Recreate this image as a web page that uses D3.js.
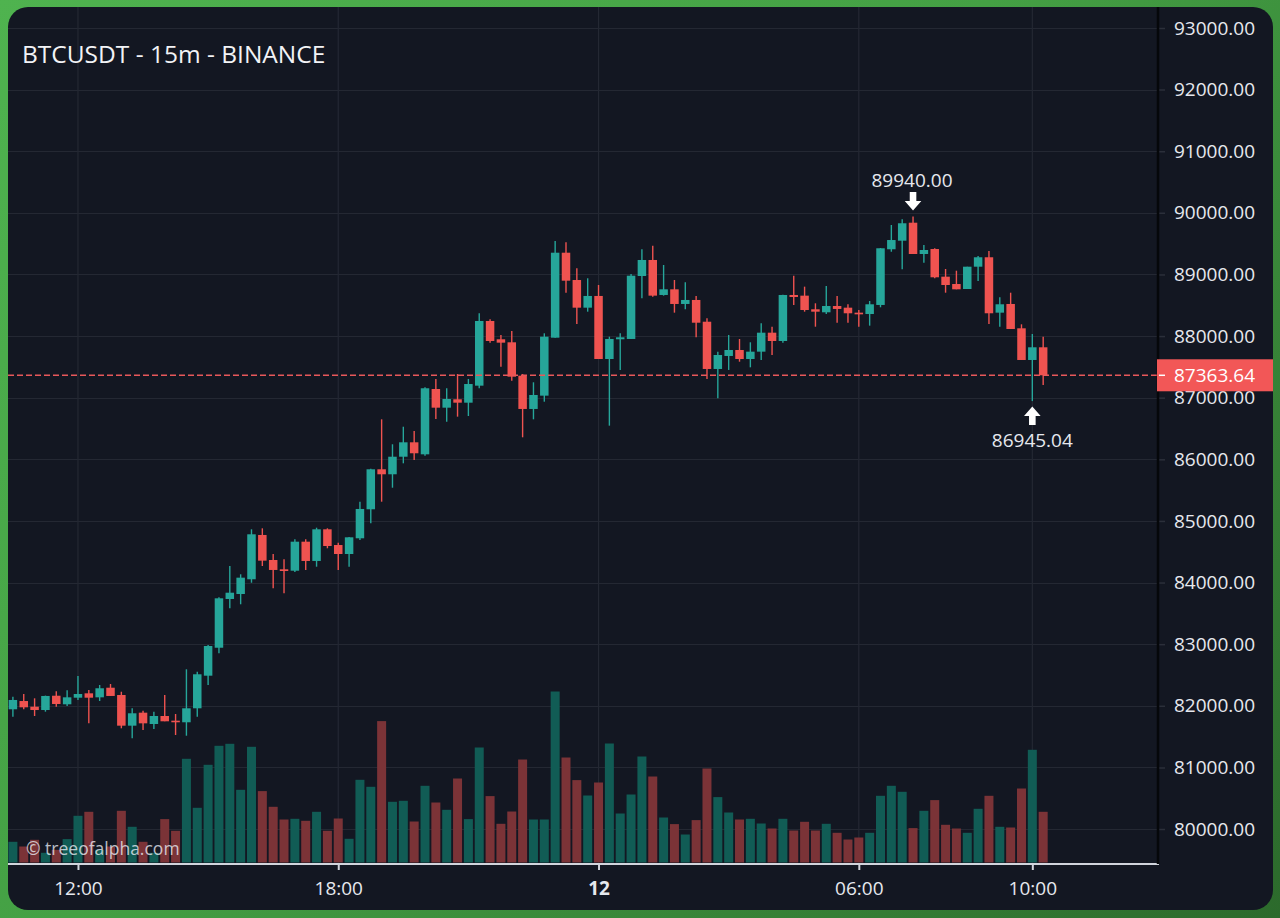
<!DOCTYPE html>
<html><head><meta charset="utf-8">
<script src="https://cdn.jsdelivr.net/npm/d3@7"></script>
<style>
html,body{margin:0;padding:0;width:1280px;height:918px;overflow:hidden;
background:linear-gradient(135deg,#4fb34f 0%,#44a044 45%,#2c6a2c 100%);}
svg{display:block}
</style></head><body>
<svg id="chart" width="1280" height="918"></svg>
<script>
const title = "BTCUSDT - 15m - BINANCE";
const watermark = "© treeofalpha.com";

// 15-minute candles, 11 Nov 10:30 -> 12 Nov 10:15
const startTime = new Date(2024, 10, 11, 10, 30);
const endTime = new Date(2024, 10, 12, 10, 30);

const open = [81943,82077,81985,81931,82163,82024,82131,82202,82137,82293,
82175,81677,81888,81704,81834,81758,81732,81959,82488,82942,
83733,83814,84053,84772,84366,84215,84192,84663,84350,84864,
84609,84463,84718,85189,85838,85757,86042,86276,86081,87141,
86838,86974,86919,87195,88245,87948,87899,87357,86817,87033,
87974,89353,88910,88461,88651,87628,87948,87953,88975,89235,
88667,88759,88521,88586,88233,87466,87677,87774,87628,87747,
88055,87920,88667,88656,88435,88386,88488,88461,88380,88358,
88505,89409,89548,89840,89332,89413,88964,88845,88764,89126,
89279,88380,88521,88126,87612,87818];

const high = [82147,82191,82121,82165,82235,82251,82483,82256,82337,82353,
82228,81959,81920,81904,82175,81866,82592,82553,82986,83760,
84268,84134,84864,84880,84463,84377,84702,84702,84890,84880,
84647,84740,85312,85845,86649,86244,86529,86460,87169,87304,
87153,87385,87304,88370,88272,88018,88083,87385,87250,88045,
89543,89522,89100,88938,88829,87990,88045,89008,89409,89467,
89154,88910,88873,88651,88289,87747,88018,87953,87899,88208,
88152,88670,88980,88802,88532,88813,88651,88516,88423,88569,
89430,89803,89895,89940,89478,89425,89089,89061,89126,89300,
89381,88629,88704,88191,88034,87990];

const low = [81823,81943,81834,81904,81985,81996,82094,81715,82077,82159,
81634,81472,81607,81623,81748,81526,81514,81823,82337,82852,
83582,83647,83997,84268,83907,83825,84171,84204,84257,84556,
84204,84257,84690,84962,85312,85539,85935,85989,86059,86654,
86610,86692,86703,87153,87893,87503,87276,86357,86649,86935,
87974,88704,88196,88396,87628,86546,87450,87953,88613,88639,
88656,88380,88435,87980,87304,86990,87450,87584,87493,87612,
87693,87893,88505,88396,88152,88358,88217,88217,88152,88169,
88467,89370,89084,89332,89191,88938,88704,88759,88764,88894,
88196,88152,88115,87612,86945.04,87206];

const close = [82094,81975,81931,82159,82029,82137,82191,82131,82284,82159,
81677,81878,81715,81834,81748,81732,81959,82511,82970,83744,
83835,84079,84783,84355,84204,84187,84663,84350,84864,84593,
84463,84734,85194,85838,85757,86042,86276,86098,87153,86838,
86979,86919,87222,88245,87920,87893,87341,86817,87044,87990,
89353,88899,88461,88651,87628,87953,87980,88980,89235,88656,
88759,88521,88586,88217,87466,87693,87774,87628,87747,88055,
87920,88667,88634,88423,88396,88488,88440,88370,88353,88516,
89425,89559,89831,89332,89397,88954,88829,88759,89126,89279,
88370,88516,88115,87612,87818,87363.64];

const volume = [207,160,227,97,127,234,467,507,127,160,
517,357,207,97,434,317,1037,547,977,1167,
1187,727,1157,714,557,430,437,417,507,317,
440,237,827,757,1414,607,617,410,767,600,
527,840,434,1150,664,387,510,1030,430,430,
1710,1050,824,670,800,1190,490,680,1060,860,
450,384,280,424,940,654,500,430,437,390,
340,437,320,407,320,387,297,230,250,297,
667,767,707,344,517,624,377,340,297,537,
667,357,350,740,1127,507];

const priceTicks = [80000,81000,82000,83000,84000,85000,86000,87000,88000,89000,90000,91000,92000,93000];
const timeTicks = [new Date(2024,10,11,12,0), new Date(2024,10,11,18,0), new Date(2024,10,12,0,0), new Date(2024,10,12,6,0), new Date(2024,10,12,10,0)];
const timeLabels = ["12:00","18:00","12","06:00","10:00"];
const timeBold = [false,false,true,false,false];

const highMark = {index: 83, value: 89940.00};
const lowMark = {index: 94, value: 86945.04};

// ---------- layout ----------
const W = 1280, H = 918;
const panel = {x: 8, y: 7, w: 1265, h: 903, r: 20};
const plotL = 8, plotR = 1158, axisY = 864;
const COLORS = {
  bg: "#131722", grid: "#242833", up: "#26a69a", down: "#ef5350",
  volUp: "#115c55", volDown: "#7b3337", text: "#e6e8ee"
};
const FONT = "'Open Sans', 'Noto Sans', sans-serif";

const times = d3.timeMinute.every(15).range(startTime, endTime);
const candles = times.map((t, i) => ({t, o: open[i], h: high[i], l: low[i], c: close[i], v: volume[i]}));

const x = d3.scaleTime().domain([times[0], times[times.length - 1]]).range([12.9, 12.9 + 95 * 10.845]);
const y = d3.scaleLinear().domain([80000, 93000]).range([829, 28]);
const yv = d3.scaleLinear().domain([0, d3.max(volume)]).range([862.5, 691.5]);

const svg = d3.select("#chart");
const defs = svg.append("defs");
defs.append("clipPath").attr("id", "panelClip").append("rect")
  .attr("x", panel.x).attr("y", panel.y).attr("width", panel.w).attr("height", panel.h).attr("rx", panel.r);
defs.append("clipPath").attr("id", "plotClip").append("rect")
  .attr("x", plotL).attr("y", panel.y).attr("width", plotR - plotL).attr("height", axisY - panel.y);

svg.append("rect").attr("x", panel.x).attr("y", panel.y).attr("width", panel.w).attr("height", panel.h)
  .attr("rx", panel.r).attr("fill", COLORS.bg);

const root = svg.append("g").attr("clip-path", "url(#panelClip)");
const plot = root.append("g").attr("clip-path", "url(#plotClip)");

// grid
plot.append("g").selectAll("line").data(priceTicks).join("line")
  .attr("x1", plotL).attr("x2", plotR)
  .attr("y1", d => Math.round(y(d)) + 0.5).attr("y2", d => Math.round(y(d)) + 0.5)
  .attr("stroke", COLORS.grid).attr("stroke-width", 1.2);
plot.append("g").selectAll("line").data(timeTicks).join("line")
  .attr("x1", d => x(d)).attr("x2", d => x(d))
  .attr("y1", panel.y).attr("y2", axisY)
  .attr("stroke", COLORS.grid).attr("stroke-width", 1.2);

// volume
const vw = 9;
plot.append("g").selectAll("rect").data(candles).join("rect")
  .attr("x", d => x(d.t) - vw / 2).attr("width", vw)
  .attr("y", d => yv(d.v)).attr("height", d => yv(0) - yv(d.v))
  .attr("fill", d => d.c >= d.o ? COLORS.volUp : COLORS.volDown);

// candles
const bw = 8.5;
const cg = plot.append("g");
cg.selectAll("line").data(candles).join("line")
  .attr("x1", d => x(d.t)).attr("x2", d => x(d.t))
  .attr("y1", d => y(d.h)).attr("y2", d => y(d.l))
  .attr("stroke", d => d.c >= d.o ? COLORS.up : COLORS.down).attr("stroke-width", 1.4);
cg.selectAll("rect").data(candles).join("rect")
  .attr("x", d => x(d.t) - bw / 2).attr("width", bw)
  .attr("y", d => y(Math.max(d.o, d.c)))
  .attr("height", d => Math.max(1.5, Math.abs(y(d.o) - y(d.c))))
  .attr("fill", d => d.c >= d.o ? COLORS.up : COLORS.down);

// last price line
const last = candles[candles.length - 1];
plot.append("line").attr("x1", plotL).attr("x2", plotR)
  .attr("y1", y(last.c)).attr("y2", y(last.c))
  .attr("stroke", "#e8585a").attr("stroke-width", 1.4).attr("stroke-dasharray", "6,3");

// watermark
plot.append("text").attr("x", 26).attr("y", 855).text(watermark)
  .attr("font-family", FONT).attr("font-size", 17.5).attr("fill", "rgba(235,238,245,0.78)");

// price axis
const yAxis = d3.axisRight(y).tickValues(priceTicks).tickFormat(d => d.toFixed(2)).tickSize(6).tickPadding(9);
const ya = root.append("g").attr("transform", `translate(${plotR + 1},0)`).call(yAxis);
ya.select(".domain").remove();
ya.selectAll(".tick line").attr("stroke", "#2b2f3a").attr("stroke-width", 1.5);
ya.selectAll(".tick text").attr("fill", COLORS.text).attr("font-family", FONT).attr("font-size", 19);

// time axis
const xAxis = d3.axisBottom(x).tickValues(timeTicks).tickFormat((d, i) => timeLabels[i]).tickSize(6).tickPadding(12);
const xa = root.append("g").attr("transform", `translate(0,${axisY})`).call(xAxis);
xa.select(".domain").remove();
xa.selectAll(".tick line").attr("stroke", "#d1d4dc").attr("stroke-width", 2);
xa.selectAll(".tick text").attr("fill", COLORS.text).attr("font-family", FONT).attr("font-size", 19)
  .attr("font-weight", (d, i) => timeBold[i] ? "bold" : "normal");

// axis lines
root.append("line").attr("x1", plotL).attr("x2", plotR + 1).attr("y1", axisY).attr("y2", axisY)
  .attr("stroke", "#d1d4dc").attr("stroke-width", 2);
root.append("line").attr("x1", plotR).attr("x2", plotR).attr("y1", panel.y).attr("y2", axisY)
  .attr("stroke", "#05070a").attr("stroke-width", 2.5);

// last price label
const ly = y(last.c);
root.append("rect").attr("x", plotR - 1).attr("y", ly - 16).attr("width", panel.x + panel.w - plotR + 1).attr("height", 32)
  .attr("fill", "#f25757");
root.append("line").attr("x1", plotR + 1).attr("x2", plotR + 7).attr("y1", ly).attr("y2", ly)
  .attr("stroke", "#ffffff").attr("stroke-width", 1.5);
root.append("text").attr("x", plotR + 16).attr("y", ly).attr("dy", "0.35em")
  .text(last.c.toFixed(2)).attr("fill", "#ffffff").attr("font-family", FONT).attr("font-size", 19);

// high / low markers
function arrow(cx, tipY, dir) {
  // dir = 1 pointing down (tip at bottom), -1 pointing up
  const p = d3.path();
  const sh = 9, hh = 9.5, sw = 3.3, hw = 8.3;
  const base = tipY - dir * hh;
  const tail = base - dir * sh;
  p.moveTo(cx - sw, tail); p.lineTo(cx + sw, tail); p.lineTo(cx + sw, base);
  p.lineTo(cx + hw, base); p.lineTo(cx, tipY); p.lineTo(cx - hw, base);
  p.lineTo(cx - sw, base); p.closePath();
  return p.toString();
}
const hx = x(candles[highMark.index].t), hy = y(highMark.value);
root.append("path").attr("d", arrow(hx, hy - 6, 1)).attr("fill", "#ffffff");
root.append("text").attr("x", hx - 1).attr("y", hy - 36).attr("dy", "0.35em").attr("text-anchor", "middle")
  .text(highMark.value.toFixed(2)).attr("fill", COLORS.text).attr("font-family", FONT).attr("font-size", 19);
const lx = x(candles[lowMark.index].t), lyy = y(lowMark.value);
root.append("path").attr("d", arrow(lx, lyy + 5.5, -1)).attr("fill", "#ffffff");
root.append("text").attr("x", lx).attr("y", lyy + 39).attr("dy", "0.35em").attr("text-anchor", "middle")
  .text(lowMark.value.toFixed(2)).attr("fill", COLORS.text).attr("font-family", FONT).attr("font-size", 19);

// title
root.append("text").attr("x", 22).attr("y", 63).text(title)
  .attr("fill", "#f2f3f6").attr("font-family", FONT).attr("font-size", 24.5);
</script>
</body></html>
